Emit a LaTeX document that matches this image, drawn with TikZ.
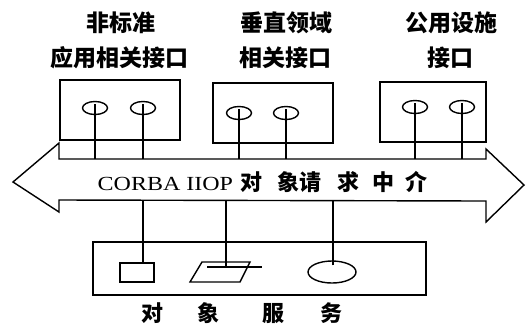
\documentclass[tikz,border=0pt]{standalone}
\usepackage{fontspec}
\setmainfont{Liberation Serif}
\newfontfamily\cjk{Noto Sans CJK SC}
\usetikzlibrary{shapes.geometric}
\begin{document}
\begin{tikzpicture}[x=1pt,y=-1pt,line width=1.4pt,
  lab/.style={font=\cjk\bfseries\fontsize{23}{23}\selectfont,inner sep=0pt},
  port/.style={ellipse,draw,minimum width=25pt,minimum height=13pt,inner sep=0pt},
  ifbox/.style={draw,inner sep=0pt},
  stem/.style={line width=1.4pt}]
\useasboundingbox (0,0) rectangle (526,325);

% top labels
\node[lab] (t1a) at (121,23) {非标准};
\node[lab] (t1b) at (119,58) {应用相关接口};
\node[lab] (t2a) at (286,23) {垂直领域};
\node[lab] (t2b) at (285,58) {相关接口};
\node[lab] (t3a) at (451,23) {公用设施};
\node[lab] (t3b) at (450,58) {接口};

% interface boxes
\node[ifbox,minimum width=120pt,minimum height=60pt] (b1) at (120,110) {};
\node[ifbox,minimum width=120pt,minimum height=60pt] (b2) at (273,113) {};
\node[ifbox,minimum width=106pt,minimum height=60pt] (b3) at (433,112) {};

% ports
\node[port] (p11) at (95,108) {};
\node[port] (p12) at (143,108) {};
\node[port] (p21) at (239,113) {};
\node[port] (p22) at (286,113) {};
\node[port] (p31) at (415,107) {};
\node[port] (p32) at (462,107) {};

% ORB double arrow
\coordinate (bodytop) at (0,159);
\coordinate (bodybot) at (0,200);
\draw[line join=miter] (13,182) -- (59,143) -- (59,159) -- (486,159) -- (486,149)
  -- (524,185) -- (486,222) -- (486,201) -- (59,200) -- (59,212) -- cycle;
\node[inner sep=0pt,anchor=west] (orb) at (97,182)
  {\fontsize{20}{20}\selectfont\scalebox{1.2}[1]{CORBA IIOP}%
   \cjk\bfseries\fontsize{22}{22}\selectfont\hspace{7pt}对\hspace{15pt}象请\hspace{16pt}求\hspace{13pt}中\hspace{11pt}介};

% stems from ports to bus
\foreach \p in {p11,p12,p21,p22,p31,p32}
  \draw[stem] ([yshift=4pt]\p.center) -- (\p.center |- bodytop);

% object services box
\node[ifbox,minimum width=333pt,minimum height=53pt] (svc) at (259.5,268.5) {};
\node[ifbox,minimum width=34pt,minimum height=19pt] (sr) at (137,272.5) {};
\draw (190,282) -- (202,262) -- (250,262) -- (240,282) -- cycle;
\coordinate (pg) at (226,267);
\draw (207,267) -- (262,267);
\node[ellipse,draw,minimum width=48pt,minimum height=22pt,inner sep=0pt] (se) at (332,272) {};

\draw[stem] ([xshift=6pt]sr.north) -- ([xshift=6pt]sr.north |- bodybot);
\draw[stem] (pg) -- (pg |- bodybot);
\draw[stem] ([xshift=1pt,yshift=-5pt]se.north) -- ([xshift=1pt]se.north |- bodybot);

\node[lab,font=\cjk\bfseries\fontsize{22}{22}\selectfont,anchor=west] (svct) at (141,313)
  {对\hspace{34pt}象\hspace{43pt}服\hspace{36pt}务};
\end{tikzpicture}
\end{document}
